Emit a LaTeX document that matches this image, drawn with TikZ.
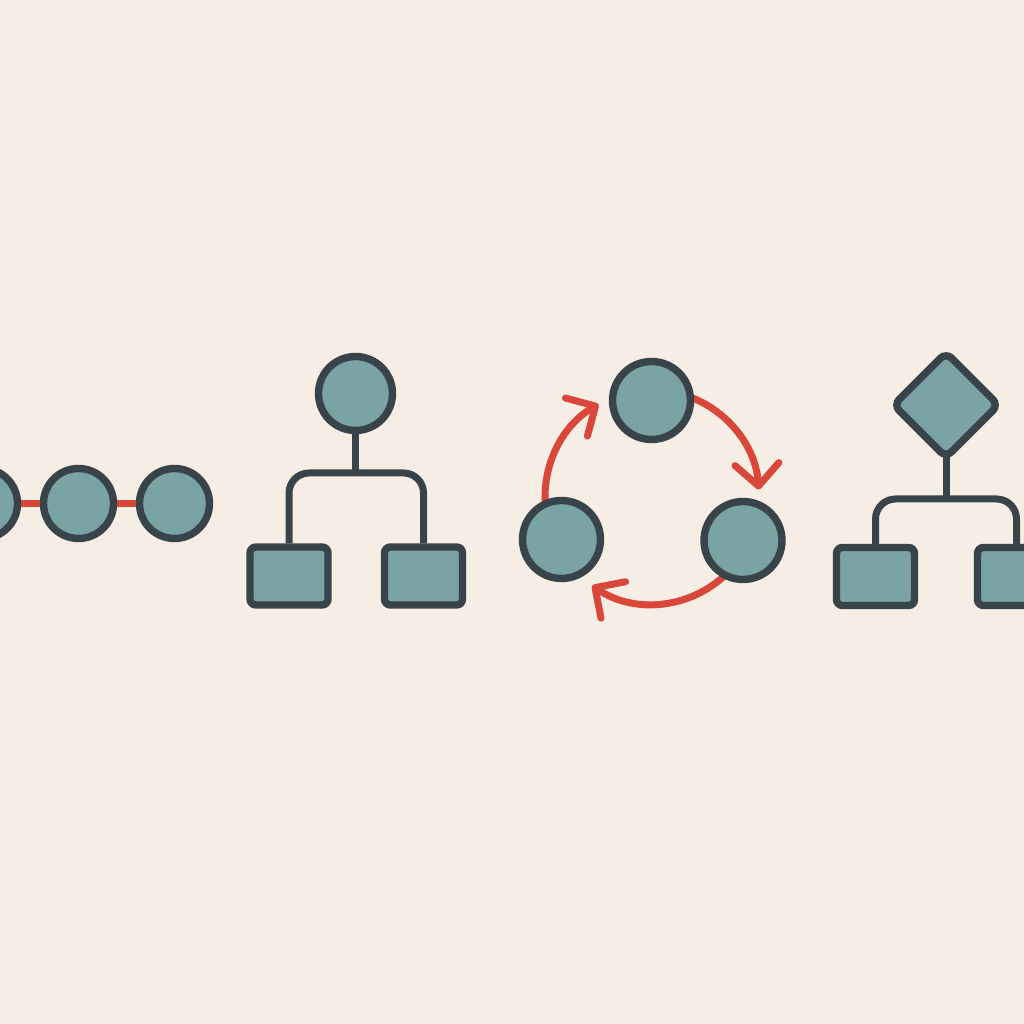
\documentclass[tikz,border=0pt]{standalone}
\usetikzlibrary{calc,positioning,shapes.geometric,arrows.meta}
\pgfdeclarelayer{back}
\pgfsetlayers{back,main}
\definecolor{paper}{HTML}{F6EEE4}
\definecolor{nodefill}{HTML}{7AA3A3}
\definecolor{nodeline}{HTML}{38434A}
\definecolor{loopred}{HTML}{D9463A}
\tikzset{
  ball/.style={circle, draw=nodeline, fill=nodefill, line width=1.85mm, inner sep=0pt, minimum size=#1},
  ball/.default=17.5mm,
  leaf/.style={rectangle, rounded corners=1.5mm, draw=nodeline, fill=nodefill, line width=1.85mm,
    inner sep=0pt, minimum width=19.5mm, minimum height=14.5mm},
  choice/.style={diamond, aspect=1, rounded corners=2mm, draw=nodeline, fill=nodefill, line width=1.85mm,
    inner sep=0pt, minimum size=27mm},
  link/.style={draw=nodeline, line width=1.75mm, rounded corners=5mm},
  chainlink/.style={draw=loopred, line width=1.7mm, line cap=round},
  looparrow/.style={draw=loopred, line width=1.75mm, line cap=round,
    -{Straight Barb[length=5.5mm,width=11mm,round]}}
}

\begin{document}
\begin{tikzpicture}[x=0.25mm,y=0.25mm]

  \begin{pgfonlayer}{back}
    \fill[paper] (0,0) rectangle (1024,1024);
  \end{pgfonlayer}
  \useasboundingbox (0,0) rectangle (1024,1024);

  % chain
  \foreach \i in {0,1,2}
  {
    \node[ball] (c\i) at ($(-17.5,520.5)+(96*\i,0)$) {};
  }

  % tree
  \node[ball=18.5mm] (root) at (355.5,630.5) {};
  \node[leaf] (left) at (289,448) {};
  \node[leaf] (right) at (423.5,448) {};
  \coordinate (fork) at (355.5,551);

  % cycle
  \coordinate (ring) at (652,527);
  \node[ball=19.5mm] (top) at (651.5,623.5) {};
  \node[ball=19.5mm] (west) at (561.5,484.5) {};
  \node[ball=19.5mm] (east) at (743,483.5) {};

  % decision
  \node[choice] (gate) at (946,619) {};
  \node[leaf] (yes) at (875.5,447.5) {};
  \node[leaf] (no) at (1016.5,447.5) {};
  \coordinate (split) at (946,525);

  \begin{pgfonlayer}{back}
    \draw[chainlink] (c0) -- (c1);
    \draw[chainlink] (c1) -- (c2);

    \draw[link] (root) -- (fork);
    \draw[link] (left.north) |- (fork) -| (right.north);

    \foreach \a/\b in {185/120,75/4,-40/-124}
    \draw[looparrow] ($(ring)+(\a:107)$) arc[start angle=\a, end angle=\b, radius=26.75mm];

    \draw[link] (gate.center) -- (split);
    \draw[link] (yes.north) |- (split) -| (no.north);
  \end{pgfonlayer}

\end{tikzpicture}
\end{document}
